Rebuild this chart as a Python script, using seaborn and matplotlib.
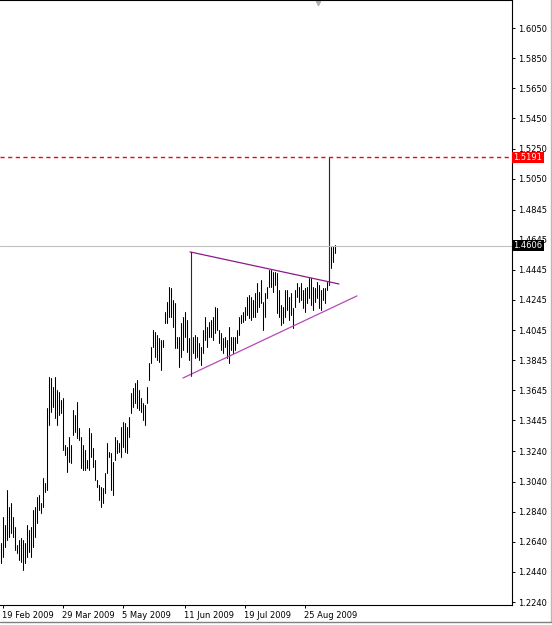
import numpy as np
import pandas as pd
import matplotlib
matplotlib.use("Agg")
import matplotlib.pyplot as plt
from matplotlib.lines import Line2D
import seaborn as sns

# daily bars (high / low)
highs = [
    1.2631, 1.2804, 1.2751, 1.2983, 1.2871, 1.2897, 1.2804, 1.2738, 1.2618, 1.2651,
    1.2665, 1.2651, 1.2631, 1.2751, 1.2718, 1.2738, 1.2851, 1.2871, 1.2937, 1.2950,
    1.2897, 1.3063, 1.3030, 1.3528, 1.3734, 1.3727, 1.3667, 1.3734, 1.3647, 1.3634,
    1.3581, 1.3594, 1.3282, 1.3269, 1.3335, 1.3282, 1.3515, 1.3481, 1.3568, 1.3395,
    1.3335, 1.3282, 1.3249, 1.3183, 1.3395, 1.3362, 1.3262, 1.3183, 1.3050, 1.3017,
    1.3003, 1.2997, 1.3096, 1.3295, 1.3236, 1.3229, 1.3169, 1.3335, 1.3315, 1.3295,
    1.3402, 1.3435, 1.3428, 1.3402, 1.3468, 1.3627, 1.3661, 1.3694, 1.3714, 1.3647,
    1.3594, 1.3561, 1.3548, 1.3667, 1.3827, 1.3933, 1.4046, 1.4033, 1.4013, 1.3993,
    1.3979, 1.3979, 1.4165, 1.4232, 1.4331, 1.4325, 1.4245, 1.4225, 1.3999, 1.3999,
    1.4092, 1.4132, 1.4165, 1.4112, 1.3993, 1.3979, 1.3999, 1.4013, 1.3999, 1.3959,
    1.3933, 1.4046, 1.4132, 1.4066, 1.4099, 1.4112, 1.4132, 1.4199, 1.4192, 1.4046,
    1.4026, 1.3993, 1.3999, 1.3979, 1.4066, 1.3999, 1.3999, 1.3999, 1.4046, 1.4132,
    1.4145, 1.4165, 1.4199, 1.4265, 1.4278, 1.4265, 1.4245, 1.4291, 1.4358, 1.4298,
    1.4378, 1.4232, 1.4291, 1.4331, 1.4444, 1.4444, 1.4431, 1.4431, 1.4424, 1.4311,
    1.4212, 1.4199, 1.4311, 1.4311, 1.4265, 1.4291, 1.4192, 1.4311, 1.4358, 1.4331,
    1.4358, 1.4311, 1.4325, 1.4331, 1.4391, 1.4391, 1.4331, 1.4325, 1.4365, 1.4345,
    1.4311, 1.4325, 1.4325, 1.4365, 1.5191, 1.4597, 1.4604, 1.4610,
]
lows = [
    1.2499, 1.2539, 1.2605, 1.2651, 1.2671, 1.2698, 1.2671, 1.2585, 1.2565, 1.2519,
    1.2505, 1.2452, 1.2499, 1.2539, 1.2572, 1.2539, 1.2605, 1.2671, 1.2764, 1.2851,
    1.2831, 1.2871, 1.2970, 1.2983, 1.3415, 1.3501, 1.3535, 1.3461, 1.3415, 1.3481,
    1.3495, 1.3249, 1.3216, 1.3103, 1.3169, 1.3163, 1.3349, 1.3369, 1.3329, 1.3315,
    1.3129, 1.3116, 1.3116, 1.3129, 1.3116, 1.3203, 1.3136, 1.3050, 1.3003, 1.2917,
    1.2871, 1.2897, 1.2963, 1.3096, 1.3203, 1.2983, 1.2950, 1.3183, 1.3229, 1.3236,
    1.3203, 1.3269, 1.3236, 1.3229, 1.3335, 1.3495, 1.3535, 1.3561, 1.3528, 1.3515,
    1.3501, 1.3448, 1.3415, 1.3561, 1.3714, 1.3827, 1.3933, 1.3867, 1.3847, 1.3833,
    1.3780, 1.3933, 1.4092, 1.4092, 1.4132, 1.4132, 1.4066, 1.3926, 1.3926, 1.3800,
    1.3867, 1.3913, 1.3999, 1.3900, 1.3847, 1.3747, 1.3893, 1.3860, 1.3867, 1.3847,
    1.3813, 1.3893, 1.3979, 1.3933, 1.3999, 1.3999, 1.3979, 1.4026, 1.4046, 1.3959,
    1.3913, 1.3893, 1.3933, 1.3860, 1.3827, 1.3913, 1.3893, 1.3913, 1.3959, 1.4013,
    1.4092, 1.4099, 1.4112, 1.4145, 1.4125, 1.4112, 1.4132, 1.4132, 1.4165, 1.4199,
    1.4225, 1.4046, 1.4132, 1.4258, 1.4331, 1.4331, 1.4298, 1.4345, 1.4159, 1.4132,
    1.4079, 1.4092, 1.4132, 1.4179, 1.4112, 1.4145, 1.4059, 1.4199, 1.4265, 1.4232,
    1.4245, 1.4192, 1.4165, 1.4225, 1.4258, 1.4212, 1.4179, 1.4232, 1.4258, 1.4192,
    1.4179, 1.4245, 1.4225, 1.4311, 1.4345, 1.4457, 1.4497, 1.4557,
]

date_ticks = [1, 31, 61, 92, 122, 152]
date_labels = ["19 Feb 2009", "29 Mar 2009", "5 May 2009", "11 Jun 2009",
               "19 Jul 2009", "25 Aug 2009"]

price_ticks = [1.6050, 1.5850, 1.5650, 1.5450, 1.5250, 1.5050, 1.4845, 1.4645,
               1.4445, 1.4245, 1.4045, 1.3845, 1.3645, 1.3445, 1.3240, 1.3040,
               1.2840, 1.2640, 1.2440, 1.2240]

spike_level = 1.5191
last_price = 1.4606

# hand drawn objects (bar index, price)
upper_line = ([94.75, 169.25], [1.4564, 1.4351])
lower_line = ([91.25, 178.25], [1.3727, 1.4272])
vert_line = ([95.25, 95.25], [1.4564, 1.3740])

sns.set_theme(style="white")
plt.rcParams["font.family"] = ["DejaVu Sans"]

n = len(highs)
bars = pd.DataFrame({
    "bar": np.repeat(np.arange(n), 2),
    "price": np.column_stack([highs, lows]).ravel(),
})

fig = plt.figure(figsize=(5.52, 6.25), dpi=100)
ax = fig.add_axes([0, 20 / 625, 512 / 552, 605 / 625])

sns.lineplot(data=bars, x="bar", y="price", units="bar", estimator=None,
             color="black", lw=0.75, sort=False, ax=ax, legend=False)
# the spike bar sits under the vertical object line
ax.plot([n - 4, n - 4], [highs[n - 4], lows[n - 4]], color="#4b0f4b", lw=0.8)

ax.axhline(spike_level, color="#ff0000", lw=1.0, ls=(0, (3, 2.5)))
ax.axhline(last_price, color="#c0c0c0", lw=0.8)

ax.plot(*upper_line, color="#8b1a8b", lw=0.9)
ax.plot(*lower_line, color="#b548b5", lw=0.9)
ax.plot(*vert_line, color="#5a0a5a", lw=0.8)

# chart shift marker
ax.plot([318 / 512], [1 - 3 / 605], marker="v", ms=3, color="#b0b0b0",
        transform=ax.transAxes, clip_on=False)

ax.set_xlim(-0.25, 255.75)
ax.set_ylim(1.6236 - 605 / 1506.6, 1.6236)

ax.yaxis.tick_right()
ax.set_yticks(price_ticks)
ax.set_yticklabels([f"{v:.4f}" for v in price_ticks])
ax.set_xticks(date_ticks)
ax.set_xticklabels(date_labels, ha="left")
ax.tick_params(axis="y", right=True, length=2.5, width=0.7, pad=2,
               labelsize=6, colors="black")
ax.tick_params(axis="x", bottom=True, length=2.5, width=0.7, pad=2,
               labelsize=6, colors="black")
ax.set_xlabel("")
ax.set_ylabel("")

for side in ["top", "right", "bottom"]:
    ax.spines[side].set_color("black")
    ax.spines[side].set_linewidth(0.8)
ax.spines["left"].set_visible(False)

# price boxes on the scale
ax.text(1.003, spike_level, f"{spike_level:.4f}", transform=ax.get_yaxis_transform(),
        ha="left", va="center", fontsize=6, color="white", zorder=10, clip_on=False,
        bbox=dict(boxstyle="square,pad=0.15", fc="#ff0000", ec="none"))
ax.text(1.003, last_price, f"{last_price:.4f}", transform=ax.get_yaxis_transform(),
        ha="left", va="center", fontsize=6, color="white", zorder=10, clip_on=False,
        bbox=dict(boxstyle="square,pad=0.15", fc="black", ec="none"))

# window frame
fig.add_artist(Line2D([550.5 / 552] * 2, [3 / 625, 1], color="#b8b8b8", lw=1))
fig.add_artist(Line2D([0, 550.5 / 552], [3 / 625] * 2, color="#808080", lw=1))

fig.savefig("out.png", dpi=100)
